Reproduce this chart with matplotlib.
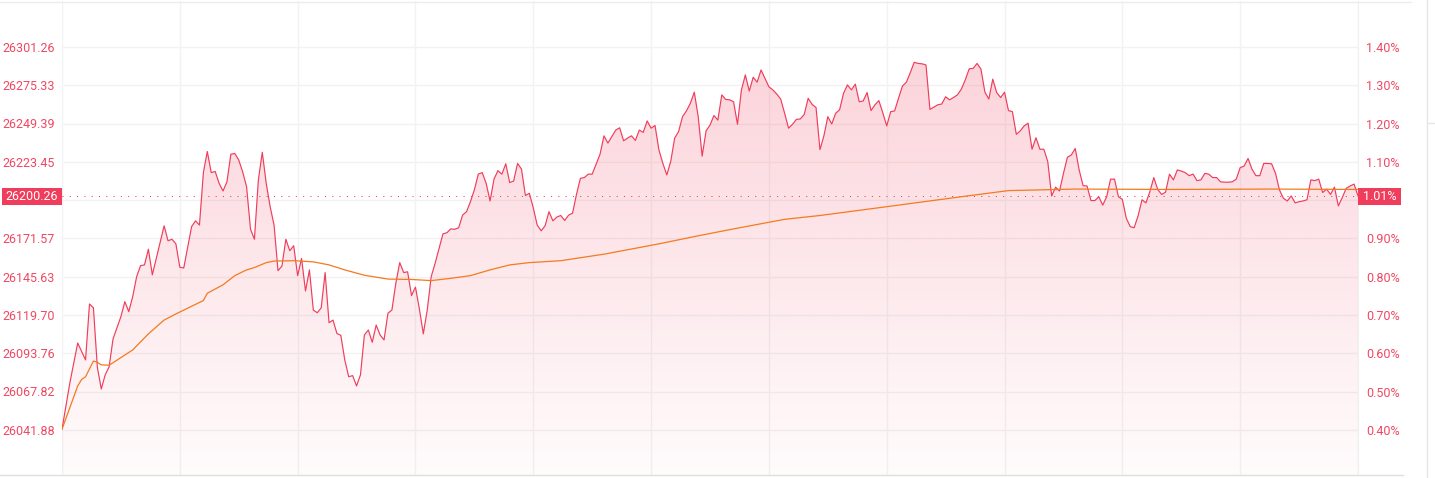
import numpy as np
import matplotlib
matplotlib.use("Agg")
import matplotlib.pyplot as plt
from matplotlib.lines import Line2D
from matplotlib.patches import Rectangle
from matplotlib import transforms

plt.rcParams['font.family'] = ['Roboto', 'DejaVu Sans']

# intraday index, minutes since open (330 = close) and change vs previous close in %
PREV_CLOSE = 25938.0
LAST_PRICE = 26200.26
LAST_PCT = 1.01

minutes = [0, 2, 4, 6, 7, 8, 9, 10, 11, 12, 13, 15, 16, 17, 18, 19, 20, 21, 22, 23,
           24, 26, 27, 28, 29, 30, 31, 32, 33, 34, 35, 36, 37, 38, 39, 40, 41, 42, 43, 44,
           45, 46, 47, 48, 49, 50, 51, 52, 53, 54, 55, 56, 57, 58, 59, 60, 61, 62, 63, 64,
           65, 66, 67, 68, 69, 70, 71, 72, 73, 74, 75, 76, 77, 78, 79, 80, 81, 82, 83, 84,
           85, 86, 87, 88, 89, 90, 91, 92, 93, 94, 95, 96, 97, 98, 99, 100, 101, 102, 103, 104,
           105, 106, 107, 108, 109, 110, 111, 112, 113, 114, 115, 116, 117, 118, 119, 120, 121, 122, 123, 124,
           125, 126, 127, 128, 129, 130, 131, 132, 133, 134, 135, 136, 137, 138, 139, 140, 141, 142, 143, 144,
           145, 146, 147, 148, 149, 150, 151, 152, 153, 154, 155, 156, 157, 158, 159, 160, 161, 162, 163, 164,
           165, 166, 167, 168, 169, 170, 171, 172, 173, 174, 175, 176, 177, 178, 179, 180, 181, 182, 183, 184,
           185, 186, 187, 188, 189, 190, 191, 192, 193, 194, 195, 196, 197, 198, 199, 200, 201, 202, 203, 204,
           205, 206, 207, 208, 209, 210, 211, 212, 213, 214, 215, 216, 217, 218, 219, 220, 221, 222, 223, 224,
           225, 226, 227, 228, 229, 230, 231, 232, 233, 234, 235, 236, 237, 238, 239, 240, 241, 242, 243, 244,
           245, 246, 247, 248, 249, 250, 251, 252, 253, 254, 255, 256, 257, 258, 259, 260, 261, 262, 263, 264,
           265, 266, 267, 268, 269, 270, 271, 272, 273, 274, 275, 276, 277, 278, 279, 280, 281, 282, 283, 284,
           285, 286, 287, 288, 289, 290, 291, 292, 293, 294, 295, 296, 297, 298, 299, 300, 301, 302, 303, 304,
           305, 306, 307, 308, 309, 310, 311, 312, 313, 314, 315, 316, 317, 318, 319, 320, 321, 322, 323, 324,
           325, 326, 327, 328, 329, 330]
change_pct = [0.402, 0.523, 0.627, 0.583, 0.729, 0.719, 0.564, 0.507, 0.544, 0.565, 0.638, 0.696, 0.735, 0.709, 0.748, 0.800, 0.829, 0.831, 0.872, 0.805,
              0.848, 0.933, 0.894, 0.898, 0.886, 0.825, 0.823, 0.877, 0.931, 0.946, 0.935, 1.072, 1.127, 1.072, 1.075, 1.044, 1.024, 1.048, 1.120, 1.122,
              1.105, 1.074, 1.035, 0.924, 0.898, 1.053, 1.125, 1.044, 0.983, 0.935, 0.816, 0.828, 0.898, 0.868, 0.881, 0.803, 0.848, 0.763, 0.818, 0.713,
              0.706, 0.719, 0.811, 0.680, 0.687, 0.652, 0.647, 0.583, 0.539, 0.542, 0.515, 0.544, 0.648, 0.661, 0.629, 0.674, 0.648, 0.635, 0.705, 0.713,
              0.783, 0.837, 0.811, 0.813, 0.751, 0.773, 0.716, 0.651, 0.713, 0.800, 0.835, 0.874, 0.912, 0.915, 0.925, 0.924, 0.928, 0.961, 0.970, 0.996,
              1.027, 1.068, 1.072, 1.044, 0.998, 1.055, 1.077, 1.068, 1.095, 1.046, 1.050, 1.096, 1.081, 1.012, 1.018, 0.980, 0.935, 0.920, 0.933, 0.970,
              0.946, 0.956, 0.960, 0.947, 0.961, 0.966, 1.015, 1.057, 1.059, 1.068, 1.068, 1.094, 1.120, 1.168, 1.149, 1.166, 1.183, 1.189, 1.155, 1.162,
              1.168, 1.156, 1.183, 1.177, 1.207, 1.188, 1.195, 1.131, 1.096, 1.066, 1.101, 1.162, 1.179, 1.218, 1.233, 1.253, 1.282, 1.218, 1.115, 1.181,
              1.196, 1.221, 1.209, 1.275, 1.263, 1.262, 1.257, 1.198, 1.288, 1.327, 1.285, 1.321, 1.308, 1.340, 1.318, 1.296, 1.288, 1.277, 1.264, 1.227,
              1.188, 1.198, 1.211, 1.212, 1.224, 1.266, 1.250, 1.242, 1.132, 1.168, 1.218, 1.199, 1.227, 1.236, 1.279, 1.301, 1.288, 1.303, 1.257, 1.259,
              1.281, 1.234, 1.249, 1.260, 1.228, 1.194, 1.231, 1.233, 1.266, 1.298, 1.308, 1.333, 1.360, 1.357, 1.356, 1.353, 1.237, 1.243, 1.249, 1.251,
              1.270, 1.262, 1.268, 1.275, 1.290, 1.314, 1.343, 1.344, 1.357, 1.342, 1.282, 1.264, 1.316, 1.281, 1.268, 1.282, 1.234, 1.231, 1.172, 1.181,
              1.194, 1.201, 1.133, 1.163, 1.133, 1.133, 1.101, 1.011, 1.034, 1.024, 1.070, 1.112, 1.118, 1.135, 1.079, 1.038, 1.037, 0.999, 0.999, 1.009,
              0.987, 1.009, 1.055, 1.055, 1.009, 1.002, 0.953, 0.931, 0.928, 0.959, 1.001, 0.993, 1.022, 1.059, 1.028, 1.015, 1.021, 1.068, 1.053, 1.079,
              1.076, 1.072, 1.064, 1.068, 1.051, 1.053, 1.070, 1.068, 1.059, 1.059, 1.048, 1.047, 1.047, 1.048, 1.055, 1.085, 1.089, 1.109, 1.081, 1.064,
              1.064, 1.096, 1.096, 1.095, 1.070, 1.027, 1.005, 0.998, 1.011, 0.993, 0.996, 0.998, 1.001, 1.053, 1.051, 1.055, 1.020, 1.029, 1.015, 1.034,
              0.985, 1.007, 1.031, 1.037, 1.042, 1.011]

# average price line
avg_minutes = [0, 4, 5, 6, 8, 9, 10, 12, 15, 18, 22, 26, 29, 31, 36, 37, 41, 44, 47, 49,
               52, 54, 59, 64, 68, 72, 77, 83, 89, 94, 99, 104, 109, 114, 119, 127, 138, 152, 162, 171,
               184, 193, 210, 229, 241, 258, 282, 308, 330]
avg_pct = [0.402, 0.515, 0.532, 0.539, 0.580, 0.577, 0.570, 0.569, 0.589, 0.609, 0.651, 0.687, 0.703, 0.713, 0.738, 0.757, 0.779, 0.803, 0.818, 0.824,
           0.837, 0.841, 0.842, 0.839, 0.831, 0.818, 0.804, 0.794, 0.793, 0.790, 0.796, 0.803, 0.818, 0.831, 0.837, 0.842, 0.859, 0.886, 0.907, 0.925,
           0.950, 0.960, 0.983, 1.009, 1.025, 1.029, 1.028, 1.029, 1.028]

price_ticks = [26041.88, 26067.82, 26093.76, 26119.70, 26145.63, 26171.57,
               26223.45, 26249.39, 26275.33, 26301.26]
pct_ticks = [0.40, 0.50, 0.60, 0.70, 0.80, 0.90, 1.00, 1.10, 1.20, 1.30, 1.40]

RED = '#F03D5B'
LABEL = '#EF4863'
ORANGE = '#F57A1E'
GRID = '#F2F2F2'
FS = 9.0
W, H = 1435, 478

fig = plt.figure(figsize=(W / 100, H / 100), dpi=100)
ax = fig.add_axes([62 / W, 3 / H, 1296 / W, 474 / H])
ax2 = ax.twinx()
y_lo, y_hi = 0.2825, 1.520
ax.set_xlim(0, 330)
ax.set_ylim(y_lo, y_hi)
ax2.set_ylim(y_lo, y_hi)

# gradient fill under the price line
poly = ax.fill_between(minutes, change_pct, y_lo, color='none', lw=0)
grad = np.zeros((256, 1, 4))
grad[:, 0, 0] = 240 / 255
grad[:, 0, 1] = 61 / 255
grad[:, 0, 2] = 91 / 255
grad[:, 0, 3] = np.linspace(0.02, 0.25, 256)
img = ax.imshow(grad, extent=[0, 330, y_lo, y_hi], origin='lower', aspect='auto', zorder=1)
img.set_clip_path(poly.get_paths()[0], ax.transData)

ax.plot(minutes, change_pct, color=RED, lw=0.85, zorder=3)
ax.plot(avg_minutes, avg_pct, color=ORANGE, lw=0.9, zorder=4)
ax.axhline(LAST_PCT, color=RED, lw=0.75, ls=(0, (1, 6)), zorder=2)

# grid
for p in pct_ticks:
    ax.axhline(p, color=GRID, lw=1, zorder=0)
for m in range(0, 331, 30):
    ax.axvline(m, color=GRID, lw=1, zorder=0)
for s in ['top', 'left', 'bottom']:
    ax.spines[s].set_visible(False)
    ax2.spines[s].set_visible(False)
ax.spines['right'].set_visible(False)
ax2.spines['right'].set_color('#EFEFEF')
ax.set_xticks([])

# price labels on the left
ax.set_yticks([(p / PREV_CLOSE - 1) * 100 for p in price_ticks])
ax.set_yticklabels([f'{p:.2f}' for p in price_ticks])
ax.tick_params(axis='y', length=0, pad=5, labelsize=FS, labelcolor=LABEL)

# percent labels on the right (1.00% sits under the current value box)
ax2.set_yticks(pct_ticks)
ax2.set_yticklabels(['' if p == 1.00 else f'{p:.2f}%' for p in pct_ticks])
ax2.tick_params(axis='y', length=0, pad=6, labelsize=FS, labelcolor=LABEL)

# current value markers
blend = transforms.blended_transform_factory(fig.transFigure, ax.transData)
box_h = 17 / 383
fig.add_artist(Rectangle((2 / W, LAST_PCT - box_h / 2), 60 / W, box_h, transform=blend,
                         color=RED, lw=0, zorder=10))
fig.text(32 / W, LAST_PCT, f'{LAST_PRICE:.2f}', transform=blend, ha='center', va='center',
         color='white', fontsize=FS, zorder=11)
fig.add_artist(Rectangle((1358 / W, LAST_PCT - box_h / 2), 43 / W, box_h, transform=blend,
                         color=RED, lw=0, zorder=10))
fig.text(1380 / W, LAST_PCT, f'{LAST_PCT:.2f}%', transform=blend, ha='center', va='center',
         color='white', fontsize=FS, zorder=11)

# frame lines around the widget
fig.add_artist(Line2D([0, 1411 / W], [1 - 1.5 / H] * 2, color='#EDEDED', lw=1))
fig.add_artist(Line2D([0, 1403 / W], [3 / H] * 2, color='#E0E0E0', lw=1))
fig.add_artist(Line2D([1427 / W] * 2, [0, 1], color='#E6E6E6', lw=1))
fig.add_artist(Line2D([1427 / W, 1], [1 - 123 / H] * 2, color='#E6E6E6', lw=1))

fig.savefig('out.png', dpi=100)
